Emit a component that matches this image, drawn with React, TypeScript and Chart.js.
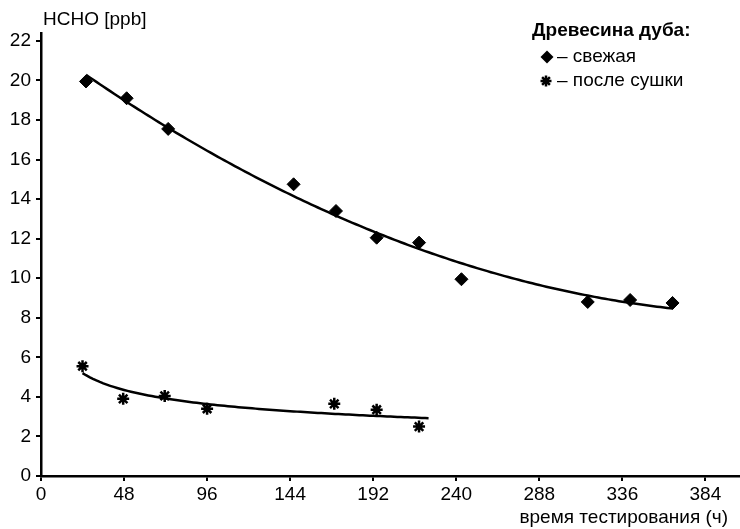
import React, { useEffect, useRef } from "react";
import { Chart, registerables } from "chart.js";

Chart.register(...registerables);

const freshHours = [26, 49.5, 73.5, 146, 170.5, 194, 218.5, 243, 316, 340.5, 365];
const freshHCHO = [19.95, 19.1, 17.55, 14.75, 13.4, 12.05, 11.8, 9.95, 8.8, 8.9, 8.75];
const driedHours = [24, 47.5, 71.5, 96, 169.5, 194, 218.5];
const driedHCHO = [5.55, 3.9, 4.05, 3.4, 3.65, 3.35, 2.5];
const driedTrendEnd = 224;
const xTicks = [0, 48, 96, 144, 192, 240, 288, 336, 384];
const yTicks = [0, 2, 4, 6, 8, 10, 12, 14, 16, 18, 20, 22];

const FONT = "'Liberation Sans', Arial, sans-serif";
const FS = 19;

function polyFit(xs: number[], ys: number[], order: number) {
  const n = order + 1;
  const M: number[][] = [];
  for (let r = 0; r < n; r++) {
    const row: number[] = [];
    for (let c = 0; c < n; c++) {
      let s = 0;
      for (let i = 0; i < xs.length; i++) s += Math.pow(xs[i], r + c);
      row.push(s);
    }
    let t = 0;
    for (let i = 0; i < xs.length; i++) t += Math.pow(xs[i], r) * ys[i];
    row.push(t);
    M.push(row);
  }
  for (let c = 0; c < n; c++) {
    for (let r = c + 1; r < n; r++) {
      const f = M[r][c] / M[c][c];
      for (let k = c; k <= n; k++) M[r][k] -= f * M[c][k];
    }
  }
  const sol = new Array(n).fill(0);
  for (let r = n - 1; r >= 0; r--) {
    let v = M[r][n];
    for (let k = r + 1; k < n; k++) v -= M[r][k] * sol[k];
    sol[r] = v / M[r][r];
  }
  return (x: number) => sol.reduce((acc, c, i) => acc + c * Math.pow(x, i), 0);
}

function powerFit(xs: number[], ys: number[]) {
  const lx = xs.map(Math.log);
  const ly = ys.map(Math.log);
  const mx = lx.reduce((a, b) => a + b, 0) / lx.length;
  const my = ly.reduce((a, b) => a + b, 0) / ly.length;
  let sxy = 0, sxx = 0;
  for (let i = 0; i < lx.length; i++) {
    sxy += (lx[i] - mx) * (ly[i] - my);
    sxx += (lx[i] - mx) * (lx[i] - mx);
  }
  const b = sxy / sxx;
  const a = Math.exp(my - b * mx);
  return (x: number) => a * Math.pow(x, b);
}

function sample(f: (x: number) => number, start: number, end: number) {
  const pts: { x: number; y: number }[] = [];
  for (let x = start; x < end; x += 2) pts.push({ x, y: f(x) });
  pts.push({ x: end, y: f(end) });
  return pts;
}

const overlay = {
  id: "overlay",
  afterDraw(chart: any) {
    const ctx = chart.ctx;
    ctx.save();
    ctx.fillStyle = "#000";
    ctx.strokeStyle = "#000";
    ctx.textBaseline = "middle";
    ctx.font = `${FS}px ${FONT}`;
    ctx.textAlign = "left";
    ctx.fillText("HCHO [ppb]", 43, 20);
    ctx.textAlign = "right";
    ctx.fillText("время тестирования (ч)", 728, 518);
    ctx.textAlign = "left";
    ctx.font = `bold ${FS}px ${FONT}`;
    ctx.fillText("Древесина дуба:", 532, 31);
    ctx.font = `${FS}px ${FONT}`;
    ctx.fillText("– свежая", 557, 57);
    ctx.fillText("– после сушки", 557, 81);
    ctx.beginPath();
    ctx.moveTo(547, 50.5);
    ctx.lineTo(553.5, 57);
    ctx.lineTo(547, 63.5);
    ctx.lineTo(540.5, 57);
    ctx.closePath();
    ctx.fill();
    ctx.lineWidth = 2.5;
    const cx = 546, cy = 81, r = 5.5;
    ctx.beginPath();
    for (let i = 0; i < 4; i++) {
      const a = (i * Math.PI) / 4;
      ctx.moveTo(cx - r * Math.cos(a), cy - r * Math.sin(a));
      ctx.lineTo(cx + r * Math.cos(a), cy + r * Math.sin(a));
    }
    ctx.stroke();
    ctx.restore();
  },
};

export default function App() {
  const ref = useRef<HTMLCanvasElement | null>(null);
  useEffect(() => {
    if (!ref.current) return;
    const freshTrend = sample(polyFit(freshHours, freshHCHO, 2), freshHours[0], freshHours[freshHours.length - 1]);
    const driedTrend = sample(powerFit(driedHours, driedHCHO), driedHours[0], driedTrendEnd);
    const chart = new Chart(ref.current, {
      type: "scatter",
      data: {
        datasets: [
          {
            label: "fresh trend",
            data: freshTrend,
            showLine: true,
            borderColor: "#000",
            borderWidth: 2.5,
            pointRadius: 0,
            tension: 0,
          },
          {
            label: "dried trend",
            data: driedTrend,
            showLine: true,
            borderColor: "#000",
            borderWidth: 2.5,
            pointRadius: 0,
            tension: 0,
          },
          {
            label: "свежая",
            data: freshHours.map((x, i) => ({ x, y: freshHCHO[i] })),
            pointStyle: "rectRot",
            pointRadius: 6.5,
            backgroundColor: "#000",
            borderColor: "#000",
            borderWidth: 1,
          },
          {
            label: "после сушки",
            data: driedHours.map((x, i) => ({ x, y: driedHCHO[i] })),
            pointStyle: "star",
            pointRadius: 6,
            backgroundColor: "#000",
            borderColor: "#000",
            borderWidth: 2.5,
          },
        ],
      },
      options: {
        animation: false,
        responsive: false,
        layout: { autoPadding: false, padding: { top: 33, right: 0, left: 0, bottom: 0 } },
        plugins: { legend: { display: false }, tooltip: { enabled: false } },
        scales: {
          x: {
            type: "linear",
            min: 0,
            max: 404,
            afterBuildTicks: (s: any) => {
              s.ticks = xTicks.map((v) => ({ value: v }));
            },
            afterFit: (s: any) => {
              s.height = 53;
              s.paddingLeft = 0;
              s.paddingRight = 0;
            },
            grid: { drawOnChartArea: false, drawTicks: true, tickLength: 5, color: "#000", lineWidth: 2 },
            border: { display: true, color: "#000", width: 2.5 },
            ticks: { color: "#000", font: { family: FONT, size: FS }, padding: 2, maxRotation: 0 },
          },
          y: {
            type: "linear",
            min: 0,
            max: 22.4,
            afterBuildTicks: (s: any) => {
              s.ticks = yTicks.map((v) => ({ value: v }));
            },
            afterFit: (s: any) => {
              s.width = 41;
              s.paddingTop = 0;
              s.paddingBottom = 0;
            },
            grid: { drawOnChartArea: false, drawTicks: true, tickLength: 5, color: "#000", lineWidth: 2 },
            border: { display: true, color: "#000", width: 2.5 },
            ticks: { color: "#000", font: { family: FONT, size: FS }, padding: 5 },
          },
        },
      },
      plugins: [overlay],
    });
    return () => chart.destroy();
  }, []);
  return (
    <div style={{ position: "fixed", left: 0, top: 0, width: 740, height: 529, background: "#fff" }}>
      <canvas ref={ref} width={740} height={529} style={{ display: "block", width: 740, height: 529 }} />
    </div>
  );
}
